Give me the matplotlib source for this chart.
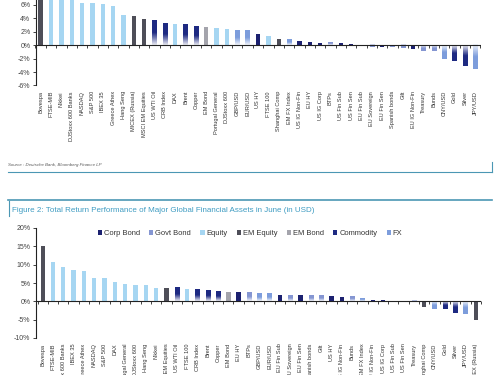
import numpy as np
import matplotlib
matplotlib.use("Agg")
import matplotlib.pyplot as plt
from matplotlib.colors import LinearSegmentedColormap, to_rgb
from matplotlib.patches import Patch
from matplotlib.lines import Line2D

plt.rcParams['font.family'] = ['Liberation Sans', 'DejaVu Sans']

# Figure 1 (top, cropped): asset returns in %
top_labels = ["Bovespa", "FTSE-MIB", "Nikkei", "DJStoxx 600 Banks", "NASDAQ", "S&P 500",
              "IBEX 35", "Greece Athex", "Hang Seng", "MICEX (Russia)", "MSCI EM Equities",
              "US WTI Oil", "CRB Index", "DAX", "Brent", "Copper", "EM Bond",
              "Portugal General", "DJStoxx 600", "GBP/USD", "EUR/USD", "US HY", "FTSE 100",
              "Shanghai Comp", "EM FX Index", "US IG Non-Fin", "EU HY", "US IG Corp", "BTPs",
              "US Fin Sub", "US Fin Sen", "EU Fin Sub", "EU Sovereign", "EU Fin Sen",
              "Spanish bonds", "Gilt", "EU IG Non-Fin", "Treasury", "Bunds", "CNY/USD",
              "Gold", "Silver", "JPY/USD"]
top_values = [8.0, 7.3, 7.0, 6.8, 6.3, 6.2, 6.1, 5.8, 4.5, 4.3, 3.9, 3.7, 3.2, 3.1, 3.1,
              2.8, 2.7, 2.5, 2.4, 2.1, 2.1, 1.7, 1.4, 0.85, 0.75, 0.55, 0.45, 0.35, 0.35,
              0.3, 0.15, 0.05, -0.3, -0.3, -0.25, -0.5, -0.65, -0.85, -0.85, -2.0, -2.3,
              -3.1, -3.6]
top_groups = ["EM Equity", "Equity", "Equity", "Equity", "Equity", "Equity", "Equity",
              "Equity", "Equity", "EM Equity", "EM Equity", "Commodity", "Commodity",
              "Equity", "Commodity", "Commodity", "EM Bond", "Equity", "Equity", "FX", "FX",
              "Corp Bond", "Equity", "EM Equity", "FX", "Corp Bond", "Corp Bond",
              "Corp Bond", "Govt Bond", "Corp Bond", "Corp Bond", "Corp Bond", "Govt Bond",
              "Corp Bond", "Govt Bond", "Govt Bond", "Corp Bond", "Govt Bond", "Govt Bond",
              "FX", "Commodity", "Commodity", "FX"]

# Figure 2: total return in June (in USD), %
bottom_labels = ["Bovespa", "FTSE-MIB", "DJStoxx 600 Banks", "IBEX 35", "Greece Athex",
                 "NASDAQ", "S&P 500", "DAX", "Portugal General", "DJStoxx 600", "Hang Seng",
                 "Nikkei", "MSCI EM Equities", "US WTI Oil", "FTSE 100", "CRB Index", "Brent",
                 "Copper", "EM Bond", "EU HY", "BTPs", "GBP/USD", "EUR/USD", "EU Fin Sub",
                 "EU Sovereign", "EU Fin Sen", "Spanish bonds", "Gilt", "US HY",
                 "US IG Non-Fin", "Bunds", "EM FX Index", "EU IG Non-Fin", "US IG Corp",
                 "US Fin Sub", "US Fin Sen", "Treasury", "Shanghai Comp", "CNY/USD", "Gold",
                 "Silver", "JPY/USD", "MICEX (Russia)"]
bottom_values = [15.0, 10.7, 9.4, 8.5, 8.2, 6.5, 6.5, 5.2, 4.6, 4.5, 4.4, 3.7, 3.7, 3.7,
                 3.4, 3.1, 3.0, 2.7, 2.6, 2.45, 2.3, 2.0, 2.0, 1.8, 1.6, 1.6, 1.6, 1.45,
                 1.45, 1.25, 1.1, 0.7, 0.4, 0.3, 0.2, 0.1, -0.3, -1.5, -2.1, -2.1, -3.2,
                 -3.4, -5.2]
bottom_groups = ["EM Equity", "Equity", "Equity", "Equity", "Equity", "Equity", "Equity",
                 "Equity", "Equity", "Equity", "Equity", "Equity", "EM Equity", "Commodity",
                 "Equity", "Commodity", "Commodity", "Commodity", "EM Bond", "Corp Bond",
                 "Govt Bond", "FX", "FX", "Corp Bond", "Govt Bond", "Corp Bond", "Govt Bond",
                 "Govt Bond", "Corp Bond", "Corp Bond", "Govt Bond", "FX", "Corp Bond",
                 "Corp Bond", "Corp Bond", "Corp Bond", "Govt Bond", "EM Equity", "FX",
                 "Commodity", "Commodity", "FX", "EM Equity"]

legend_order = ["Corp Bond", "Govt Bond", "Equity", "EM Equity", "EM Bond", "Commodity", "FX"]
group_colors = {"Corp Bond": "#1c2170", "Govt Bond": "#8596d2", "Equity": "#a6d6f2",
                "EM Equity": "#4e4e58", "EM Bond": "#a4a4ac", "Commodity": "#1e2a82",
                "FX": "#7d9ddc"}
gradient_groups = {"Commodity", "FX", "Govt Bond"}

TEAL = "#4b97b4"
TEXT = "#333333"


def gradient_fill(ax, bar, color):
    x0, y0 = bar.get_xy()
    w, h = bar.get_width(), bar.get_height()
    rgb = np.array(to_rgb(color))
    light = 1 - (1 - rgb) * 0.1
    cmap = LinearSegmentedColormap.from_list("g", [light, rgb, rgb])
    g = np.linspace(0, 1, 64).reshape(-1, 1)
    if h >= 0:
        extent = [x0, x0 + w, y0, y0 + h]
    else:
        extent = [x0, x0 + w, y0 + h, y0]
        g = g[::-1]
    ax.imshow(g, extent=extent, origin="lower", aspect="auto", cmap=cmap,
              zorder=bar.get_zorder(), interpolation="bilinear")
    bar.set_facecolor("none")


def draw_panel(ax, labels, values, groups, ylim, yticks, xlim):
    x = np.arange(len(labels))
    bars = ax.bar(x, values, width=0.42, color=[group_colors[g] for g in groups],
                  linewidth=0, zorder=2)
    for b, g in zip(bars, groups):
        if g in gradient_groups:
            gradient_fill(ax, b, group_colors[g])
    ax.axhline(0, color="#222222", lw=0.8, zorder=3)
    ax.plot(np.arange(len(labels) + 1) - 0.5, np.zeros(len(labels) + 1), ls="none",
            marker=3, ms=2.2, mew=0.6, color="#222222", zorder=3, clip_on=False)
    ax.set_xlim(*xlim)
    ax.set_ylim(*ylim)
    ax.set_yticks(yticks)
    ax.set_yticklabels([f"{t}%" for t in yticks], fontsize=5, color="#444444")
    ax.set_xticks(x)
    ax.set_xticklabels(labels, rotation=90, fontsize=4.1, color=TEXT)
    ax.tick_params(axis="x", length=0, pad=4)
    ax.tick_params(axis="y", length=2, width=0.6, pad=2, color="#222222")
    for s in ["top", "right", "bottom"]:
        ax.spines[s].set_visible(False)
    ax.spines["left"].set_linewidth(0.8)
    ax.spines["left"].set_color("#222222")


fig = plt.figure(figsize=(5, 3.75), dpi=100)

ax1 = fig.add_axes([36 / 500, 1 - 85.5 / 375, 445 / 500, 85.5 / 375])
draw_panel(ax1, top_labels, top_values, top_groups, (-6, 6.7), [-6, -4, -2, 0, 2, 4, 6],
           (-0.45, 42.55))

ax2 = fig.add_axes([36 / 500, 1 - 338 / 375, 445 / 500, 110 / 375])
draw_panel(ax2, bottom_labels, bottom_values, bottom_groups, (-10, 20),
           [-10, -5, 0, 5, 10, 15, 20], (-0.65, 42.5))

# source note and report frame lines
fig.text(8 / 500, 1 - 165 / 375, "Source : Deutsche Bank, Bloomberg Finance LP",
         fontsize=3.2, style="italic", color="#555555", va="center")
fig.add_artist(Line2D([8 / 500, 492 / 500], [1 - 172.3 / 375] * 2, color=TEAL, lw=0.8))
fig.add_artist(Line2D([492 / 500] * 2, [1 - 161.5 / 375, 1 - 172.3 / 375], color=TEAL, lw=0.8))
fig.add_artist(Line2D([8 / 500, 492 / 500], [1 - 200.5 / 375] * 2, color=TEAL, lw=1.2))
fig.add_artist(Line2D([8.5 / 500] * 2, [1 - 201 / 375, 1 - 215.5 / 375], color=TEAL, lw=0.8))
fig.text(12 / 500, 1 - 210 / 375,
         "Figure 2: Total Return Performance of Major Global Financial Assets in June (in USD)",
         fontsize=5.8, color="#3f9cc2", va="center")

handles = [Patch(facecolor=group_colors[g], label=g) for g in legend_order]
fig.legend(handles=handles, loc="center", bbox_to_anchor=(250 / 500, 1 - 233.5 / 375),
           ncol=7, frameon=False, fontsize=5.4, handlelength=0.55, handleheight=0.55,
           handletextpad=0.25, columnspacing=1.25, labelcolor=TEXT)

fig.savefig("out.png", dpi=100, facecolor="white")
